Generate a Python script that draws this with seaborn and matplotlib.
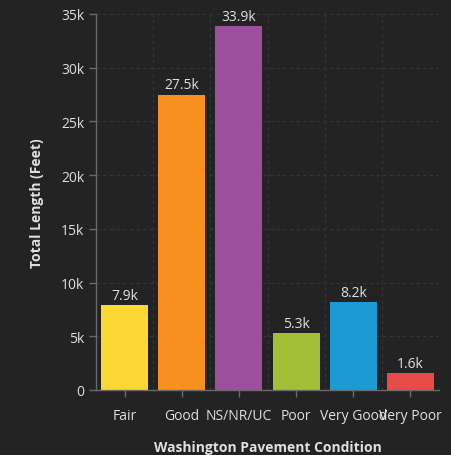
import matplotlib
matplotlib.use("Agg")
import matplotlib.pyplot as plt
import seaborn as sns
import pandas as pd

categories = ["Fair", "Good", "NS/NR/UC", "Poor", "Very Good", "Very Poor"]
values = [7900, 27500, 33900, 5300, 8200, 1600]
value_labels = ["7.9k", "27.5k", "33.9k", "5.3k", "8.2k", "1.6k"]
colors = ["#FDD835", "#F7901E", "#9C4F9C", "#A2C037", "#1B9AD6", "#E94B4B"]
yticks = [0, 5000, 10000, 15000, 20000, 25000, 30000, 35000]
ytick_labels = ["0", "5k", "10k", "15k", "20k", "25k", "30k", "35k"]

bg = "#232323"
txt = "#e0e0e0"

sns.set_theme(style="dark")
plt.rcParams["font.family"] = ["Open Sans", "DejaVu Sans"]

df = pd.DataFrame({"cat": categories, "val": values})

fig = plt.figure(figsize=(4.51, 4.56), dpi=100, facecolor=bg)
ax = fig.add_axes([96/451, 65/456, 343/451, 376/456])
ax.set_facecolor(bg)

sns.barplot(data=df, x="cat", y="val", hue="cat", palette=colors, legend=False,
            width=0.82, ax=ax, saturation=1, edgecolor="none", linewidth=0)

for i, (v, lab) in enumerate(zip(values, value_labels)):
    ax.text(i, v + 200, lab, ha="center", va="bottom", color=txt, fontsize=10)

ax.set_ylim(0, 35000)
ax.set_xlim(-0.5, len(categories) - 0.5)
ax.set_yticks(yticks)
ax.set_yticklabels(ytick_labels)

# gridlines
for y in yticks[1:]:
    ax.axhline(y, color="#363636", lw=0.8, ls=(0, (3, 3)), zorder=0)
for xb in [i + 0.5 for i in range(len(categories))]:
    ax.axvline(xb, color="#363636", lw=0.8, ls=(0, (3, 3)), zorder=0)
ax.grid(False)

for s in ["top", "right"]:
    ax.spines[s].set_visible(False)
for s in ["left", "bottom"]:
    ax.spines[s].set_visible(True)
    ax.spines[s].set_color("#6a6a6a")
    ax.spines[s].set_linewidth(1)

ax.tick_params(axis="both", colors="#6a6a6a", labelcolor=txt, labelsize=10,
               length=5, width=1, direction="out", bottom=True, left=True)
ax.tick_params(axis="x", pad=8)

ax.set_xlabel("Washington Pavement Condition", color=txt, fontsize=10,
              fontweight="bold", labelpad=12)
ax.set_ylabel("Total Length (Feet)", color=txt, fontsize=10,
              fontweight="bold", labelpad=12)

fig.savefig("out.png", dpi=100, facecolor=bg)
